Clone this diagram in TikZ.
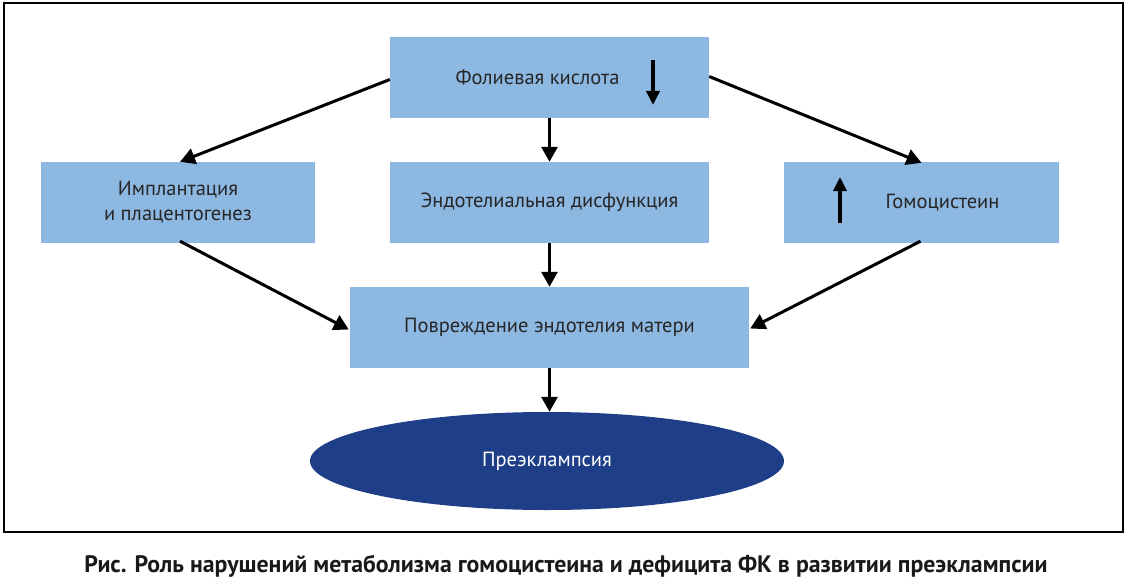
\documentclass[tikz,border=0pt]{standalone}
\usepackage{fontspec}
\setmainfont{PT Sans}
\usetikzlibrary{arrows.meta,shapes.geometric}
\definecolor{boxblue}{HTML}{8DB8E2}
\definecolor{darkblue}{HTML}{1E3F88}
\begin{document}
\begin{tikzpicture}[x=1pt,y=-1pt,
  box/.style={fill=boxblue,draw=none,minimum width=#1,minimum height=81pt,inner sep=0pt,align=center,font=\fontsize{20.5}{25}\selectfont,text=black!85},
  box/.default=319pt,
  conn/.style={line width=3pt,-{Triangle[length=15pt,width=16pt]}},
  markarrow/.style={line width=3.6pt,-{Triangle[length=14pt,width=13pt]}}
]
\useasboundingbox (0,0) rectangle (1129,583);
\draw[line width=1.6pt] (4,3) rectangle (1123,532);
\node[box] (fk) at (549.5,77.5) {\raisebox{-2pt}{\hspace*{-24pt}Фолиевая кислота}};
\node[box=274pt] (impl) at (178,202.5) {Имплантация\\и плацентогенез};
\node[box] (endo) at (549.5,202.5) {\raisebox{-2pt}{Эндотелиальная дисфункция}};
\node[box=275pt] (homo) at (921.5,202.5) {\raisebox{-2pt}{\hspace*{42pt}Гомоцистеин}};
\node[box=399pt] (povr) at (549.5,327.5) {\raisebox{-2pt}{Повреждение эндотелия матери}};
\node[ellipse,fill=darkblue,minimum width=474pt,minimum height=98pt,inner sep=0pt,text=white,font=\fontsize{20.5}{25}\selectfont] (pre) at (547,461) {Преэклампсия};
\coordinate (fkdA) at (653,60);
\coordinate (fkdB) at (653,105);
\draw[markarrow] (fkdA) -- (fkdB);
\coordinate (hmA) at (840,223);
\coordinate (hmB) at (840,177);
\draw[markarrow] (hmA) -- (hmB);
\draw[conn] ([yshift=-2pt]fk.west) -- ([xshift=2pt]impl.north);
\draw[conn] ([yshift=1pt]fk.east) -- ([yshift=-1pt]homo.north);
\draw[conn] (fk.south) -- (endo.north);
\draw[conn] (endo.south) -- (povr.north);
\draw[conn] (povr.south) -- (povr.south |- pre.north);
\draw[conn] ([xshift=2pt,yshift=2pt]impl.south) -- ([xshift=-1pt,yshift=-2pt]povr.west);
\draw[conn] ([xshift=-1pt,yshift=2pt]homo.south) -- ([xshift=1pt,yshift=-1pt]povr.east);
\node[font=\bfseries\fontsize{23.8}{28}\selectfont,text=black!90] (cap) at (566,566) {Рис. Роль нарушений метаболизма гомоцистеина и дефицита ФК в развитии преэклампсии};
\end{tikzpicture}
\end{document}
